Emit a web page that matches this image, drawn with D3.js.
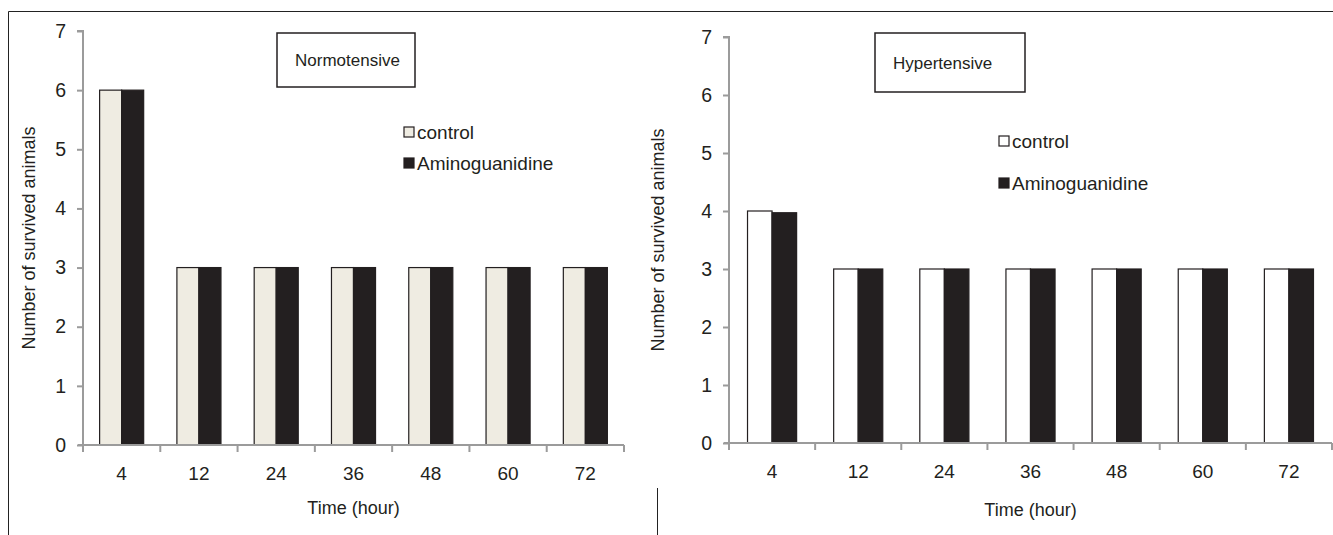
<!DOCTYPE html>
<html><head><meta charset="utf-8">
<script src="https://cdn.jsdelivr.net/npm/d3@7"></script>
<style>
body{margin:0;background:#fff;}
svg{display:block;font-family:"Liberation Sans",Arial,sans-serif;}
</style></head>
<body>
<svg id="c" width="1333" height="535"></svg>
<script>
const categories = ["4","12","24","36","48","60","72"];
const normoControl = [6,3,3,3,3,3,3];
const normoAmino = [6,3,3,3,3,3,3];
const hyperControl = [4,3,3,3,3,3,3];
const hyperAmino = [3.97,3,3,3,3,3,3];
const yTicks = [0,1,2,3,4,5,6,7];
const seriesNames = ["control","Aminoguanidine"];

const svg = d3.select("#c");
// outer frame
svg.append("line").attr("x1",8.5).attr("x2",1333).attr("y1",11.5).attr("y2",11.5).attr("stroke","#222").attr("stroke-width",1);
svg.append("line").attr("x1",8.5).attr("x2",8.5).attr("y1",11.5).attr("y2",535).attr("stroke","#222").attr("stroke-width",1);
svg.append("line").attr("x1",657.5).attr("x2",657.5).attr("y1",488).attr("y2",535).attr("stroke","#222").attr("stroke-width",1);

function panel(cfg){
  const g = svg.append("g");
  const x = d3.scaleBand().domain(categories).range([cfg.x0,cfg.x1]).paddingInner(0.43).paddingOuter(0.215);
  const xb = d3.scaleBand().domain(categories).range([cfg.x0,cfg.x1]);
  const y = d3.scaleLinear().domain([0,7]).range([cfg.y0,cfg.y7]);
  const sub = d3.scaleBand().domain(seriesNames).range([0,x.bandwidth()]);
  const data = categories.map((c,i)=>({c, v:[cfg.ctrl[i],cfg.amino[i]]}));
  // bars
  const grp = g.selectAll("g.grp").data(data).enter().append("g").attr("transform",d=>`translate(${x(d.c)},0)`);
  grp.selectAll("rect").data(d=>d.v.map((v,j)=>({v,s:seriesNames[j]}))).enter().append("rect")
    .attr("x",d=>sub(d.s)).attr("width",sub.bandwidth())
    .attr("y",d=>y(d.v)).attr("height",d=>y(0)-y(d.v))
    .attr("fill",d=>d.s==="control"?cfg.ctrlFill:"#231f20")
    .attr("stroke","#231f20").attr("stroke-width",1.2);
  // y axis
  const ya = g.append("g").attr("transform",`translate(${cfg.x0},0)`)
    .call(d3.axisLeft(y).tickValues(yTicks).tickSize(6).tickPadding(11).tickFormat(d3.format("d")));
  ya.selectAll("path,line").attr("stroke","#9b9b9b").attr("stroke-width",2);
  ya.select("path").attr("d",`M-6,${cfg.y7}H0V${cfg.y0}`);
  ya.selectAll("text").attr("font-size",19.5).attr("fill","#231f20").attr("font-family","Liberation Sans, Arial, sans-serif");
  // x axis
  const xa = g.append("g").attr("transform",`translate(0,${cfg.y0})`)
    .call(d3.axisBottom(xb).tickSize(0).tickPadding(22));
  xa.select("path").attr("stroke","#9b9b9b").attr("stroke-width",2).attr("d",`M${cfg.x0-5},0H${cfg.x1}`);
  xa.selectAll("text").attr("font-size",19).attr("fill","#231f20").attr("font-family","Liberation Sans, Arial, sans-serif");
  const edges = categories.map(c=>xb(c)).concat([cfg.x1]);
  xa.selectAll("line.edge").data(edges).enter().append("line").attr("class","edge")
    .attr("x1",d=>d).attr("x2",d=>d).attr("y1",0).attr("y2",7).attr("stroke","#9b9b9b").attr("stroke-width",2);
  // axis titles
  g.append("text").attr("x",(cfg.x0+cfg.x1)/2).attr("y",cfg.y0+cfg.tOff).attr("text-anchor","middle")
    .attr("font-size",18).attr("fill","#231f20").text("Time (hour)");
  g.append("text").attr("transform",`translate(${cfg.yl},${(cfg.y0+cfg.y7)/2}) rotate(-90)`).attr("text-anchor","middle")
    .attr("font-size",18).attr("fill","#231f20").text("Number of survived animals");
  // title box
  g.append("rect").attr("x",cfg.bx).attr("y",cfg.by).attr("width",cfg.bw).attr("height",cfg.bh)
    .attr("fill","#fff").attr("stroke","#231f20").attr("stroke-width",1.5);
  g.append("text").attr("x",cfg.bx+18).attr("y",cfg.by+cfg.bh/2+6).attr("font-size",17).attr("fill","#231f20").text(cfg.title);
  // legend
  seriesNames.forEach((s,j)=>{
    const ly = cfg.ly + j*cfg.lgap;
    g.append("rect").attr("x",cfg.lx).attr("y",ly-5).attr("width",10).attr("height",10)
      .attr("fill",s==="control"?cfg.ctrlFill:"#231f20").attr("stroke","#231f20").attr("stroke-width",1.2);
    g.append("text").attr("x",cfg.lx+13).attr("y",ly+7).attr("font-size",19).attr("fill","#231f20").text(s);
  });
}

panel({x0:83,x1:624,y0:445,y7:31,ctrl:normoControl,amino:normoAmino,ctrlFill:"#efece2",
  yl:35,bx:277,by:33,bw:138,bh:54,title:"Normotensive",lx:404,ly:132,lgap:31,tOff:69});
panel({x0:729,x1:1332,y0:443,y7:37,ctrl:hyperControl,amino:hyperAmino,ctrlFill:"#ffffff",
  yl:664,bx:875,by:33,bw:150,bh:59,title:"Hypertensive",lx:999,ly:141,lgap:42,tOff:73});
</script>
</body></html>
